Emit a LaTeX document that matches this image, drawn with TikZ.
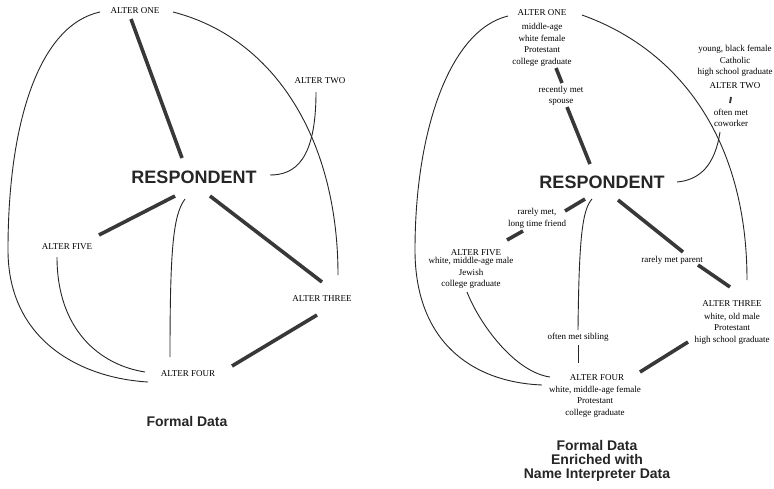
\documentclass[tikz,border=0pt]{standalone}
\usepackage{fontspec}
\setmainfont{Liberation Serif}
\setsansfont{Liberation Sans}
\begin{document}
\begin{tikzpicture}[x=1pt,y=-1pt,
 lab/.style={font=\fontsize{9}{11.5}\selectfont, inner sep=0pt, align=center},
 resp/.style={font=\sffamily\bfseries\fontsize{18}{20}\selectfont, inner sep=0pt, text=black!85},
 capt/.style={font=\sffamily\bfseries\fontsize{14}{14}\selectfont, inner sep=0pt, align=center, text=black!85},
 heavy/.style={line width=3.6pt, draw=black!78},
 light/.style={line width=0.9pt, draw=black!85},
 tickline/.style={line width=1.8pt, draw=black!80}]
\fill[white] (0,0) rectangle (774,488);
\useasboundingbox (0,0) rectangle (774,488);

% ---------------- left diagram ----------------
\node[lab] (a1) at (135,11) {ALTER ONE};
\node[lab] (a2) at (320,81) {ALTER TWO};
\node[resp] (r) at (194,177) {RESPONDENT};
\node[lab] (a5) at (67,247) {ALTER FIVE};
\node[lab] (a3) at (322,299) {ALTER THREE};
\node[lab] (a4) at (188,374) {ALTER FOUR};
\node[capt] (c1) at (187,421) {Formal Data};

\coordinate (a1r) at (131,19);   \coordinate (ra1) at (182,158);
\coordinate (ra5) at (175,196);  \coordinate (a5r) at (99,235);
\coordinate (ra3) at (210,196);  \coordinate (a3r) at (322,282);
\coordinate (a4a3) at (232,366); \coordinate (a3a4) at (317,315);
\coordinate (a2r) at (316,92);   \coordinate (ra2) at (270,175);
\coordinate (a1L) at (100,12);   \coordinate (lm) at (8,250);  \coordinate (a4L) at (148,382);
\coordinate (a1R) at (173,12);   \coordinate (a3T) at (338,275);
\coordinate (ra4) at (185,199);  \coordinate (a4r) at (170,357);
\coordinate (a5a4) at (57,257);  \coordinate (a4a5) at (145,372);

\draw[heavy] (a1r) -- (ra1);
\draw[heavy] (ra5) -- (a5r);
\draw[heavy] (ra3) -- (a3r);
\draw[heavy] (a4a3) -- (a3a4);
\draw[light] (a2r) .. controls (316,160) and (295,175) .. (ra2);
\draw[light] (a1L) .. controls (40,25) and (8,120) .. (lm) .. controls (8,340) and (80,378) .. (a4L);
\draw[light] (a1R) .. controls (275,38) and (338,140) .. (a3T);
\draw[light] (ra4) .. controls (173,215) and (170,250) .. (a4r);
\draw[light] (a5a4) .. controls (57,330) and (100,365) .. (a4a5);

% ---------------- right diagram ----------------
\node[lab] (b1) at (542,13) {ALTER ONE};
\node[lab] (b1t) at (542,45) {middle-age\\white female\\Protestant\\college graduate};
\node[lab] (b2t) at (735,61) {young, black female\\Catholic\\high school graduate};
\node[lab] (b2) at (735,86) {ALTER TWO};
\node[lab] (l2) at (731,118) {often met\\coworker};
\node[resp] (s) at (602,182) {RESPONDENT};
\node[lab] (l1) at (561,96) {recently met\\spouse};
\node[lab] (l5) at (537,218.5) {rarely met,\\long time friend};
\node[lab] (b5) at (476,253) {ALTER FIVE};
\node[lab] (b5t) at (471,273) {white, middle-age male\\Jewish\\college graduate};
\node[lab] (l3) at (672,260) {rarely met parent};
\node[lab] (b3) at (732,304) {ALTER THREE};
\node[lab] (b3t) at (732,328.5) {white, old male\\Protestant\\high school graduate};
\node[lab] (l4) at (578,337) {often met sibling};
\node[lab] (b4) at (597,378) {ALTER FOUR};
\node[lab] (b4t) at (595,401.5) {white, middle-age female\\Protestant\\college graduate};
\node[capt] (c2) at (597,461) {Formal Data\\Enriched with\\Name Interpreter Data};

\coordinate (b1l1) at (556,68);  \coordinate (l1b1) at (562,83);
\coordinate (l1s) at (567,107);  \coordinate (sl1) at (590,164);
\coordinate (sl5) at (585,199);  \coordinate (l5s) at (565,211);
\coordinate (l5b5) at (523,231); \coordinate (b5l5) at (507,240);
\coordinate (sl3) at (618,200);  \coordinate (l3s) at (683,252);
\coordinate (l3b3) at (698,265); \coordinate (b3l3) at (730,287);
\coordinate (b4b3) at (640,372); \coordinate (b3b4) at (688,342);
\coordinate (b2l2) at (731,97);  \coordinate (l2b2) at (730,103);
\coordinate (l2s) at (720,132);  \coordinate (sl2) at (677,182);
\coordinate (b1L) at (508,16);   \coordinate (rm) at (415,250);  \coordinate (b4L) at (542,385);
\coordinate (b1R) at (582,15);   \coordinate (b3T) at (747,280);
\coordinate (sl4) at (592,199);  \coordinate (l4s) at (578,330);
\coordinate (l4b4) at (578,345); \coordinate (b4l4) at (578,363);
\coordinate (b5b4) at (467,292); \coordinate (b4b5) at (550,377);

\draw[heavy] (b1l1) -- (l1b1);
\draw[heavy] (l1s) -- (sl1);
\draw[heavy] (sl5) -- (l5s);
\draw[heavy] (l5b5) -- (b5l5);
\draw[heavy] (sl3) -- (l3s);
\draw[heavy] (l3b3) -- (b3l3);
\draw[heavy] (b4b3) -- (b3b4);
\draw[tickline] (b2l2) -- (l2b2);
\draw[light] (l2s) .. controls (715,165) and (700,180) .. (sl2);
\draw[light] (b1L) .. controls (450,30) and (415,130) .. (rm) .. controls (415,340) and (470,382) .. (b4L);
\draw[light] (b1R) .. controls (680,50) and (747,140) .. (b3T);
\draw[light] (sl4) .. controls (582,210) and (579,240) .. (l4s);
\draw[light] (l4b4) -- (b4l4);
\draw[light] (b5b4) .. controls (480,325) and (515,372) .. (b4b5);
\end{tikzpicture}
\end{document}
